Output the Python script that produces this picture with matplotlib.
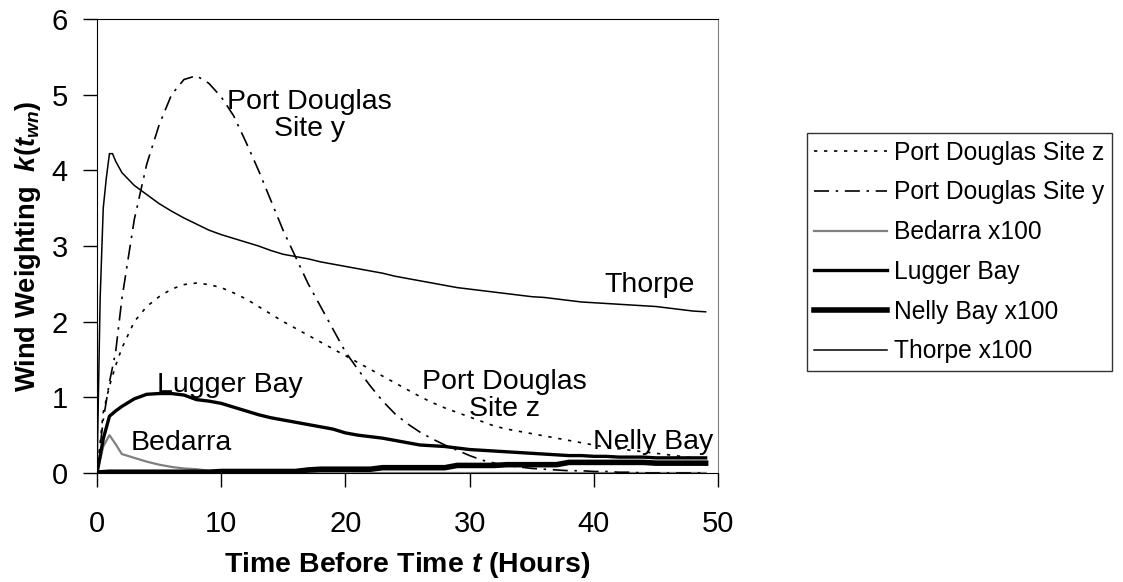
import matplotlib
matplotlib.use("Agg")
import matplotlib.pyplot as plt

plt.rcParams['font.family'] = ['Liberation Sans', 'DejaVu Sans']
plt.rcParams['mathtext.fontset'] = 'custom'
plt.rcParams['mathtext.it'] = 'Liberation Sans:italic:bold'
plt.rcParams['mathtext.rm'] = 'Liberation Sans:bold'
plt.rcParams['mathtext.bf'] = 'Liberation Sans:bold'

hours = list(range(0, 50))

# Port Douglas Site z
x_site_z = [0, 0.5, 1, 1.5, 2] + list(range(3, 50))
y_site_z = [0, 0.8, 1.15, 1.42, 1.65,
            2.0, 2.2, 2.33, 2.43, 2.49, 2.51, 2.49, 2.45, 2.38, 2.3,
            2.2, 2.1, 2.0, 1.91, 1.82, 1.73, 1.64, 1.55, 1.46, 1.37,
            1.28, 1.19, 1.1, 1.01, 0.93, 0.86, 0.8, 0.74, 0.68, 0.62,
            0.58, 0.55, 0.52, 0.49, 0.46, 0.43, 0.4, 0.37, 0.34, 0.32,
            0.3, 0.28, 0.26, 0.24, 0.22, 0.2, 0.19]

# Port Douglas Site y
x_site_y = [0, 0.5, 1, 1.5, 2] + list(range(3, 50))
y_site_y = [0, 0.7, 1.2, 1.6, 2.3,
            3.35, 4.08, 4.6, 5.0, 5.2, 5.25, 5.15, 4.97, 4.72, 4.37,
            4.0, 3.6, 3.2, 2.85, 2.5, 2.2, 1.9, 1.6, 1.37, 1.15,
            0.95, 0.78, 0.65, 0.54, 0.45, 0.37, 0.3, 0.23, 0.17, 0.13,
            0.1, 0.08, 0.06, 0.05, 0.04, 0.03, 0.03, 0.02, 0.02, 0.01,
            0.01, 0.0, 0.0, 0.0, 0.0, 0.0, 0.0]

# Bedarra x100
x_bedarra = [0, 0.5, 1, 1.5, 2] + list(range(3, 50))
y_bedarra = [0, 0.35, 0.5, 0.38, 0.25,
             0.2, 0.15, 0.11, 0.08, 0.06, 0.05, 0.03, 0.02, 0.01, 0.0] + [0.0] * 37

# Lugger Bay
x_lugger = [0, 0.5, 1, 1.5, 2] + list(range(3, 50))
y_lugger = [0, 0.45, 0.75, 0.82, 0.88,
            0.98, 1.04, 1.05, 1.05, 1.03, 0.97, 0.95, 0.92, 0.87, 0.82,
            0.77, 0.73, 0.7, 0.67, 0.64, 0.61, 0.58, 0.53, 0.5, 0.48,
            0.46, 0.43, 0.4, 0.37, 0.36, 0.35, 0.33, 0.31, 0.3, 0.29,
            0.28, 0.27, 0.26, 0.25, 0.24, 0.23, 0.23, 0.22, 0.22, 0.21,
            0.21, 0.21, 0.2, 0.2, 0.2, 0.2, 0.2]

# Nelly Bay x100
y_nelly = [0] + [0.01] * 9 + [0.02] * 7 + [0.04] + [0.05] * 5 + [0.07] * 6 \
          + [0.1] * 4 + [0.11] * 5 + [0.14] * 7 + [0.13] * 5

# Thorpe x100
x_thorpe = [0, 0.25, 0.5, 0.75, 1, 1.25, 1.5, 2] + list(range(3, 50))
y_thorpe = [0, 2.3, 3.5, 3.9, 4.22, 4.22, 4.12, 3.97,
            3.8, 3.68, 3.56, 3.46, 3.37, 3.29, 3.21, 3.15, 3.1, 3.05,
            3.0, 2.94, 2.89, 2.86, 2.83, 2.79, 2.76, 2.73, 2.7, 2.67,
            2.64, 2.6, 2.57, 2.54, 2.51, 2.48, 2.45, 2.43, 2.41, 2.39,
            2.37, 2.35, 2.33, 2.32, 2.3, 2.28, 2.26, 2.25, 2.24, 2.23,
            2.22, 2.21, 2.2, 2.18, 2.16, 2.14, 2.13]

# labels written on the chart
notes = ["Port Douglas\nSite y", "Thorpe", "Port Douglas\nSite z",
         "Nelly Bay", "Lugger Bay", "Bedarra"]
notes_x = [17.1, 44.5, 32.8, 44.8, 10.7, 6.8]
notes_y = [4.72, 2.49, 1.03, 0.41, 1.16, 0.40]

fig = plt.figure(figsize=(11.23, 5.82), dpi=100)
ax = fig.add_axes([0.0864, 0.1873, 0.553, 0.7801])

ax.plot(x_bedarra, y_bedarra, color='#808080', lw=1.6, label='Bedarra x100', zorder=2)
ax.plot(x_site_z, y_site_z, color='black', lw=1.2, ls=(0, (2, 4)),
        label='Port Douglas Site z', zorder=3)
ax.plot(x_site_y, y_site_y, color='black', lw=1.2, ls=(0, (9, 4, 1.5, 4)),
        label='Port Douglas Site y', zorder=3)
ax.plot(x_lugger, y_lugger, color='black', lw=2.4, label='Lugger Bay', zorder=3)
ax.plot(hours, y_nelly, color='black', lw=4, label='Nelly Bay x100', zorder=3)
ax.plot(x_thorpe, y_thorpe, color='black', lw=1.1, label='Thorpe x100', zorder=3)

for t, tx, ty in zip(notes, notes_x, notes_y):
    ax.text(tx, ty, t, fontsize=20.5, ha='center', va='center',
            linespacing=1.05, zorder=5)

ax.set_xlim(0, 50)
ax.set_ylim(0, 6)
ax.set_xticks([0, 10, 20, 30, 40, 50])
ax.set_yticks([0, 1, 2, 3, 4, 5, 6])
ax.tick_params(axis='x', direction='out', length=10, width=1, pad=17, labelsize=21)
ax.tick_params(axis='y', direction='out', length=10, width=1, pad=11, labelsize=21)
ax.spines['right'].set_color('#808080')
ax.set_xlabel('Time Before Time $t$ (Hours)', fontsize=20.5, fontweight='bold', labelpad=8)
ax.set_ylabel('Wind Weighting  $k(t_{wn})$', fontsize=19.6, fontweight='bold', labelpad=6)

handles, labels = ax.get_legend_handles_labels()
order = [1, 2, 0, 3, 4, 5]
leg = fig.legend([handles[i] for i in order], [labels[i] for i in order],
                 loc='center left', bbox_to_anchor=(0.7186, 0.567),
                 fontsize=17.7, frameon=True, fancybox=False, edgecolor='black',
                 handlelength=2.95, handletextpad=0.3, labelspacing=0.64,
                 borderpad=0.3, borderaxespad=0)
leg.get_frame().set_linewidth(1.0)

fig.savefig('out.png', dpi=100)
